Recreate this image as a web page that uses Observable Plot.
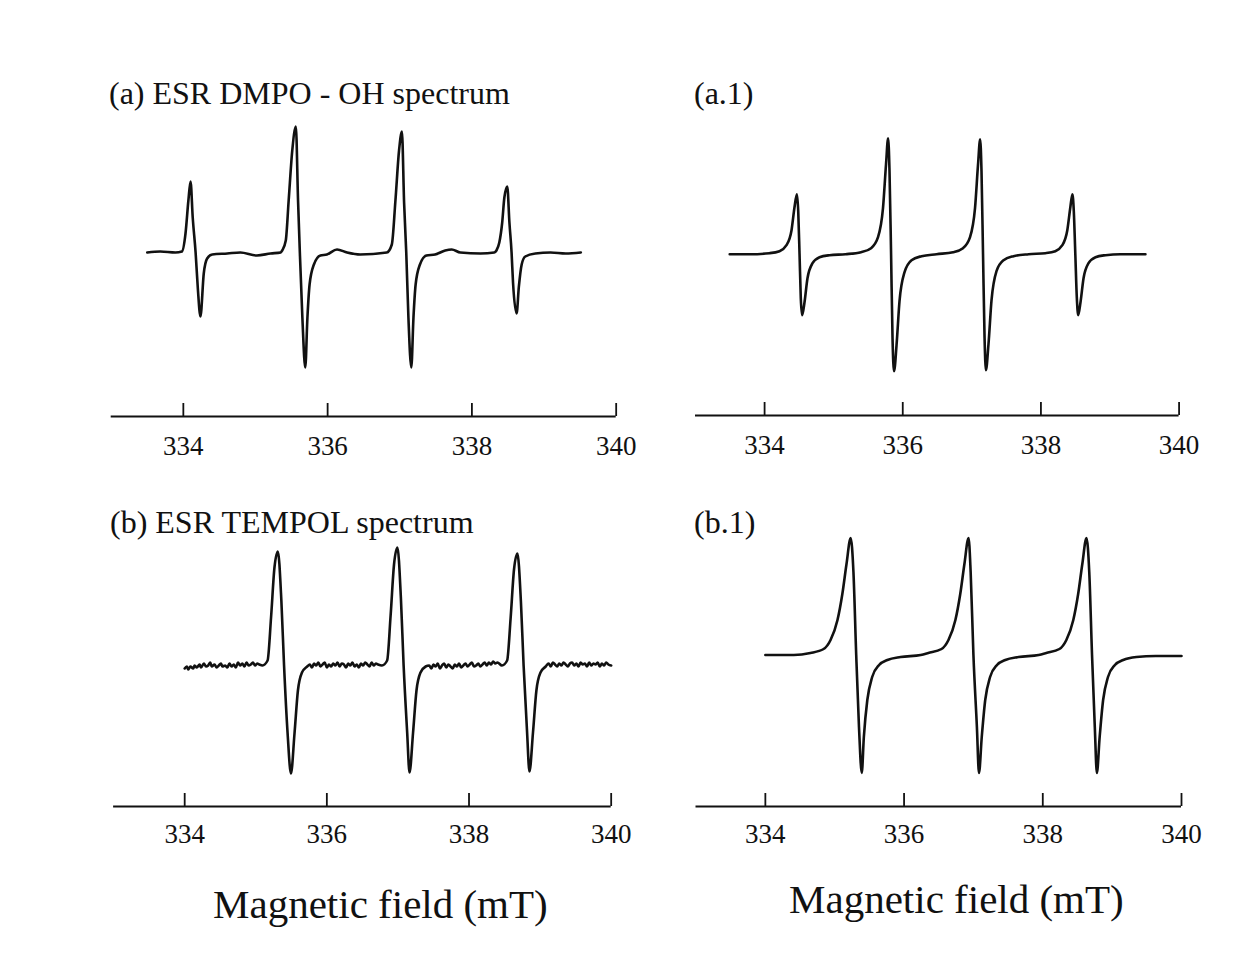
<!DOCTYPE html>
<html>
<head>
<meta charset="utf-8">
<script src="https://cdn.jsdelivr.net/npm/d3@7"></script>
<script src="https://cdn.jsdelivr.net/npm/@observablehq/plot@0.6"></script>
<style>
  html, body { margin: 0; padding: 0; background: #ffffff; }
  #page { position: relative; width: 1244px; height: 958px; overflow: hidden; background: #ffffff; }
  #page svg { position: absolute; }
  .lbl { font-family: "Liberation Serif", "Times New Roman", serif; fill: #111; }
</style>
</head>
<body>
<div id="page"></div>
<script>
// ---------- tick labels ----------
const tickValues = [334, 336, 338, 340];
const xDomain = [333, 340];

// ---------- texts ----------
const titles = ["(a) ESR DMPO - OH spectrum", "(a.1)", "(b) ESR TEMPOL spectrum", "(b.1)"];
const axisTitle = "Magnetic field (mT)";

// ---------- (a) measured ESR DMPO-OH spectrum: [field mT, intensity a.u.] ----------
const specA = [
  [333.50,0],[333.68,1],[333.89,0],[333.98,1],[334.03,19],[334.07,52],[334.10,71],[334.13,35],
  [334.17,0],[334.20,-35],[334.237,-64],[334.283,-21],[334.33,-6],[334.40,-2],[334.61,-1],[334.79,0],
  [335.02,-3],[335.21,-1],[335.35,0],[335.37,2],[335.42,12],[335.46,52],[335.51,102],[335.56,126],
  [335.59,52],[335.615,0],[335.65,-65],[335.69,-115],[335.72,-65],[335.75,-32],[335.81,-12],[335.90,-3],
  [335.99,-2],[336.13,3],[336.27,0],[336.45,-2],[336.82,0],[336.89,8],[336.94,52],[336.99,102],
  [337.03,121],[337.06,50],[337.09,0],[337.12,-65],[337.16,-115],[337.19,-65],[337.22,-32],[337.28,-12],
  [337.37,-3],[337.49,-2],[337.63,2],[337.72,3],[337.84,0],[338.12,-1],[338.31,0],[338.34,2],
  [338.38,10],[338.42,30],[338.45,55],[338.49,66],[338.52,30],[338.55,0],[338.57,-30],[338.62,-61],
  [338.65,-35],[338.69,-12],[338.74,-4],[338.88,-1],[339.09,0],[339.30,-1],[339.51,0]
];

// ---------- (a.1) simulated DMPO-OH spectrum ----------
const specA1 = [
  [333.495,0],[333.796,0],[334.071,1],[334.216,3],[334.317,9],[334.390,24],[334.433,47],[334.468,60],
  [334.487,43],[334.506,0],[334.524,-44],[334.543,-61],[334.578,-48],[334.621,-24],[334.694,-9],[334.795,-3],
  [334.940,-1],[335.171,0],[335.396,2],[335.541,6],[335.642,17],[335.714,46],[335.758,90],[335.788,116],
  [335.808,84],[335.831,0],[335.852,-84],[335.874,-117],[335.910,-91],[335.953,-47],[336.026,-18],[336.127,-6],
  [336.272,-2],[336.489,0],[336.728,2],[336.872,6],[336.974,17],[337.046,46],[337.090,90],[337.120,115],
  [337.140,83],[337.162,0],[337.184,-83],[337.204,-116],[337.241,-90],[337.285,-46],[337.357,-17],[337.459,-6],
  [337.603,-2],[337.821,0],[338.064,1],[338.208,3],[338.310,9],[338.382,24],[338.426,47],[338.456,60],
  [338.476,43],[338.498,0],[338.520,-44],[338.540,-61],[338.573,-48],[338.617,-24],[338.689,-9],[338.790,-3],
  [338.935,-1],[339.152,0],[339.513,0]
];

// ---------- (b) measured TEMPOL spectrum: three lines + noisy baseline ----------
const specBLines = [
  [335.093,0],[335.166,5],[335.215,48],[335.263,98],[335.311,114],[335.360,65],[335.398,0],[335.448,-68],
  [335.495,-108],[335.545,-68],[335.593,-25],[335.650,-7],[335.723,-1],
  [336.775,0],[336.848,5],[336.897,50],[336.945,101],[336.993,118],[337.042,67],[337.080,0],[337.130,-67],
  [337.163,-107],[337.213,-67],[337.261,-25],[337.318,-7],[337.390,-1],
  [338.463,0],[338.536,5],[338.585,47],[338.633,96],[338.681,112],[338.730,64],[338.768,0],[338.817,-67],
  [338.850,-106],[338.900,-67],[338.948,-25],[339.006,-7],[339.079,-1]
];
const specBBaseline = [
  [334.00,-3],[334.03,-1],[334.05,-4],[334.08,-1],[334.12,-3],[334.14,0],[334.17,-2],[334.21,1],[334.23,-2],
  [334.27,2],[334.30,-1],[334.33,0],[334.36,3],[334.38,-1],[334.42,1],[334.45,-2],[334.48,0],[334.51,2],
  [334.53,-1],[334.57,0],[334.60,-2],[334.63,2],[334.66,-1],[334.69,1],[334.72,-2],[334.75,3],[334.78,0],
  [334.81,2],[334.84,-1],[334.87,3],[334.90,0],[334.93,1],[334.96,3],[334.99,0],[335.02,2],[335.05,1],
  [335.76,1],[335.79,-2],[335.82,2],[335.85,0],[335.88,3],[335.91,-1],[335.94,1],[335.97,3],[336.00,-2],
  [336.03,1],[336.06,-1],[336.09,2],[336.12,0],[336.15,3],[336.18,-1],[336.21,2],[336.24,1],[336.27,-2],
  [336.30,2],[336.33,0],[336.36,3],[336.39,-1],[336.42,1],[336.45,-2],[336.48,2],[336.51,0],[336.54,3],
  [336.57,1],[336.60,-1],[336.63,3],[336.66,0],[336.69,2],[336.72,1],
  [337.44,0],[337.47,-3],[337.50,1],[337.53,-1],[337.56,2],[337.59,-3],[337.62,0],[337.65,2],[337.68,-2],
  [337.71,1],[337.74,-1],[337.77,-3],[337.80,1],[337.83,-1],[337.86,2],[337.89,-2],[337.92,0],[337.95,2],
  [337.98,-1],[338.01,1],[338.04,3],[338.07,-1],[338.10,0],[338.13,2],[338.16,-1],[338.19,1],[338.22,3],
  [338.25,0],[338.28,3],[338.31,1],[338.34,4],[338.37,2],[338.40,3],
  [339.12,2],[339.15,-1],[339.18,3],[339.21,1],[339.24,-1],[339.27,2],[339.30,0],[339.33,3],[339.36,1],
  [339.39,-1],[339.42,2],[339.45,3],[339.48,0],[339.51,2],[339.54,-1],[339.57,3],[339.60,1],[339.63,2],
  [339.66,-1],[339.69,3],[339.72,0],[339.75,2],[339.78,1],[339.81,3],[339.84,-1],[339.87,2],[339.90,0],
  [339.93,3],[339.96,1],[340.00,0]
];

// ---------- (b.1) simulated TEMPOL spectrum ----------
const specB1 = [
  [334.00,0],[334.41,0],[334.65,2],[334.84,6],[334.94,15],[335.04,35],[335.11,61],[335.17,91],
  [335.23,117],[335.27,83],[335.31,0],[335.35,-72],[335.39,-118],[335.42,-82],[335.47,-45],[335.54,-22],
  [335.64,-10],[335.76,-5],[335.95,-2],[336.24,0],[336.35,2],[336.54,6],[336.64,15],[336.74,35],
  [336.81,61],[336.87,91],[336.93,117],[336.96,83],[337.00,0],[337.05,-72],[337.08,-118],[337.12,-82],
  [337.17,-45],[337.24,-22],[337.34,-10],[337.46,-5],[337.65,-2],[337.94,0],[338.05,2],[338.24,6],
  [338.34,15],[338.44,35],[338.51,61],[338.57,91],[338.63,117],[338.67,83],[338.71,0],[338.75,-72],
  [338.78,-118],[338.82,-82],[338.87,-45],[338.94,-22],[339.04,-10],[339.16,-5],[339.35,-2],[339.63,-1],
  [340.00,-1]
];

// ---------- layout (page pixels) ----------
const FONT = '"Liberation Serif", "Times New Roman", serif';
const panels = [
  {data: specA, left: 0, top: 110, xl: 110.7, xr: 615.7, axisY: 416, baseY: 252, pad: 19, curve: "monotone-x"},
  {data: specA1, left: 640, top: 110, xl: 695, xr: 1178.6, axisY: 415, baseY: 253.7, pad: 19, curve: "monotone-x"},
  {data: specBLines.concat(specBBaseline).sort((a, b) => a[0] - b[0]), left: 0, top: 525, xl: 113.1, xr: 610.7, axisY: 806, baseY: 665, pad: 17.5, curve: "monotone-x"},
  {data: specB1, left: 640, top: 525, xl: 695.5, xr: 1181, axisY: 806, baseY: 654.5, pad: 17.5, curve: "monotone-x"}
];

const page = document.getElementById("page");

for (const p of panels) {
  const frameH = p.axisY - p.top;
  const marginBottom = 50;
  const height = frameH + marginBottom;
  const width = (p.xr - p.left) + 30;
  const yDomain = [p.baseY - p.axisY, p.baseY - p.top];
  const chart = Plot.plot({
    width, height,
    marginLeft: p.xl - p.left,
    marginRight: width - (p.xr - p.left),
    marginTop: 0,
    marginBottom,
    x: {domain: xDomain},
    y: {domain: yDomain, axis: null},
    style: {fontFamily: FONT, fontSize: "27px", color: "#111", background: "transparent", overflow: "visible"},
    marks: [
      Plot.ruleY([yDomain[0]], {stroke: "#111", strokeWidth: 1.8}),
      Plot.ruleX(tickValues, {y1: yDomain[0], y2: yDomain[0] + 13, stroke: "#111", strokeWidth: 1.8}),
      Plot.axisX(tickValues, {tickSize: 0, tickPadding: p.pad, fontSize: 27, label: null, tickFormat: d => String(d)}),
      Plot.line(p.data, {x: d => d[0], y: d => d[1], curve: p.curve, stroke: "#111", strokeWidth: 2.6, strokeLinejoin: "round"})
    ]
  });
  chart.setAttribute("font-family", FONT);
  chart.querySelectorAll("g, text").forEach(el => {
    el.style.fontFamily = FONT;
    el.style.fontVariantNumeric = "normal";
  });
  chart.style.left = p.left + "px";
  chart.style.top = p.top + "px";
  page.appendChild(chart);
}

// ---------- texts (titles and axis titles) ----------
const ns = "http://www.w3.org/2000/svg";
const overlay = document.createElementNS(ns, "svg");
overlay.setAttribute("width", 1244);
overlay.setAttribute("height", 958);
overlay.style.left = "0px";
overlay.style.top = "0px";
overlay.style.pointerEvents = "none";
const texts = [
  {t: titles[0], x: 109, y: 104, size: 32},
  {t: titles[1], x: 694, y: 104, size: 32},
  {t: titles[2], x: 110, y: 533, size: 32},
  {t: titles[3], x: 694, y: 533, size: 32},
  {t: axisTitle, x: 213, y: 918, size: 41},
  {t: axisTitle, x: 789, y: 913, size: 41}
];
for (const d of texts) {
  const el = document.createElementNS(ns, "text");
  el.setAttribute("x", d.x);
  el.setAttribute("y", d.y);
  el.setAttribute("class", "lbl");
  el.setAttribute("font-size", d.size);
  el.textContent = d.t;
  overlay.appendChild(el);
}
page.appendChild(overlay);
</script>
</body>
</html>
